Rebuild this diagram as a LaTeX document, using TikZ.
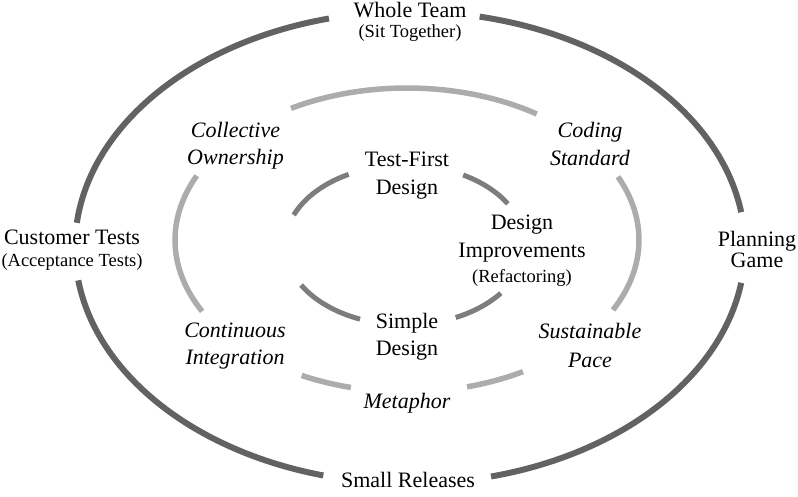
\documentclass[tikz,border=0pt]{standalone}
\usepackage{fontspec}
\setmainfont{Liberation Serif}
\definecolor{outerc}{RGB}{98,98,98}
\definecolor{midc}{RGB}{172,172,172}
\definecolor{innerc}{RGB}{125,125,125}
\begin{document}
\begin{tikzpicture}[x=1pt,y=1pt,
  outerring/.style={draw=outerc, line width=6pt, line cap=butt},
  midring/.style={draw=midc, line width=5.5pt, line cap=butt},
  innerring/.style={draw=innerc, line width=5pt, line cap=butt},
  lbl/.style={align=center, inner sep=0pt, anchor=north, font=\fontsize{22}{27}\selectfont},
  ilbl/.style={lbl, font=\fontsize{22}{27}\selectfont\itshape},
  sml/.style={}]
\useasboundingbox (0,0) rectangle (798,496);
\newcommand{\smalltxt}[1]{{\fontsize{18.5}{20}\selectfont #1}}
% centres
\coordinate (oc) at (410,248.5);
\coordinate (mc) at (407,256);
\coordinate (ic) at (405,251);
% outer ring
\draw[outerring] (oc) ++(104:335 and 236) arc[start angle=104, end angle=174, x radius=335, y radius=236];
\draw[outerring] (oc) ++(188:335 and 236) arc[start angle=188, end angle=255, x radius=335, y radius=236];
\draw[outerring] (oc) ++(284:335 and 236) arc[start angle=284, end angle=351.4, x radius=335, y radius=236];
\draw[outerring] (oc) ++(8.6:335 and 236) arc[start angle=8.6, end angle=78, x radius=335, y radius=236];
% middle ring
\draw[midring] (mc) ++(56:232 and 152) arc[start angle=56, end angle=120, x radius=232, y radius=152];
\draw[midring] (mc) ++(155:232 and 152) arc[start angle=155, end angle=208, x radius=232, y radius=152];
\draw[midring] (mc) ++(243:232 and 152) arc[start angle=243, end angle=256, x radius=232, y radius=152];
\draw[midring] (mc) ++(285:232 and 152) arc[start angle=285, end angle=300, x radius=232, y radius=152];
\draw[midring] (mc) ++(-27.4:232 and 152) arc[start angle=-27.4, end angle=24.6, x radius=232, y radius=152];
% inner ring
\draw[innerring] (ic) ++(118:120 and 80) arc[start angle=118, end angle=158, x radius=120, y radius=80];
\draw[innerring] (ic) ++(31:120 and 80) arc[start angle=31, end angle=61, x radius=120, y radius=80];
\draw[innerring] (ic) ++(210:120 and 80) arc[start angle=210, end angle=248, x radius=120, y radius=80];
\draw[innerring] (ic) ++(295:120 and 80) arc[start angle=295, end angle=323, x radius=120, y radius=80];
% outer labels
\node[lbl] (whole) at (410,494.3) {Whole Team\\[-6.4pt]\smalltxt{(Sit Together)}};
\node[lbl] (cust) at (72,266) {Customer Tests\\[-5pt]\smalltxt{(Acceptance Tests)}};
\node[lbl] (plan) at (757,265) {Planning\\[-6pt]Game};
\node[lbl, anchor=base] (small) at (408,9) {Small Releases};
% middle labels
\node[ilbl] (coll) at (235.5,374.3) {Collective\\Ownership};
\node[ilbl] (coding) at (590,374) {Coding\\[1pt]Standard};
\node[ilbl] (cont) at (235,173) {Continuous\\Integration};
\node[ilbl] (sust) at (590,173) {Sustainable\\[2pt]Pace};
\node[ilbl, anchor=base] (meta) at (407,88) {Metaphor};
% inner labels
\node[lbl] (tfd) at (407,344.3) {Test-First\\[0.6pt]Design};
\node[lbl] (dimp) at (522,281) {Design\\[1pt]Improvements\\[-2pt]\smalltxt{(Refactoring)}};
\node[lbl] (simple) at (407,183) {Simple\\Design};
\end{tikzpicture}
\end{document}
